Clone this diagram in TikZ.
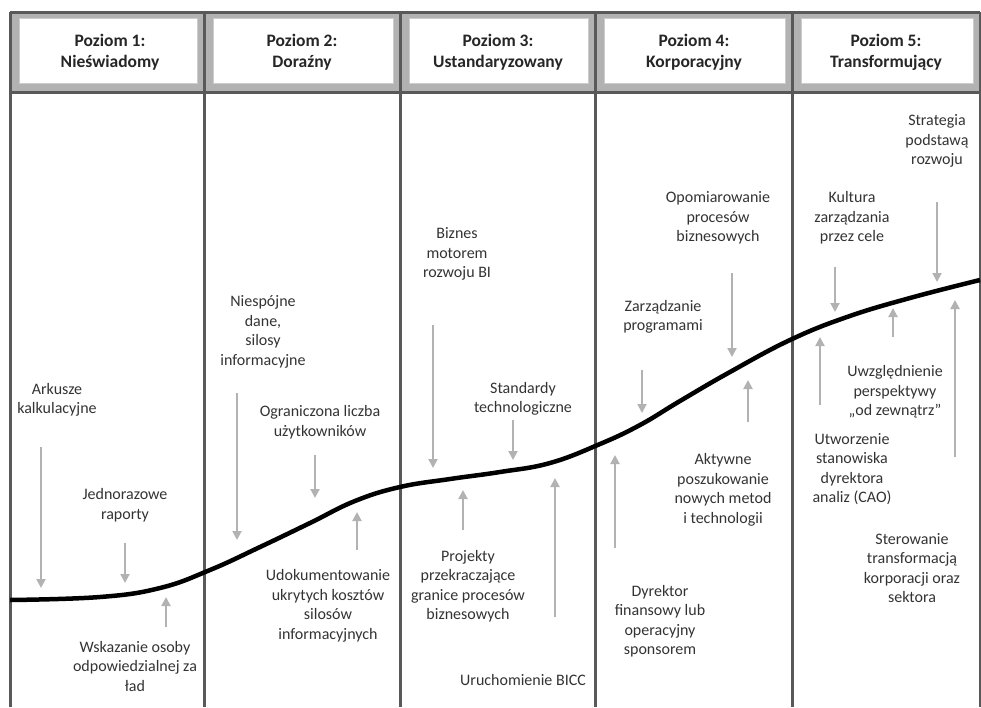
\documentclass[tikz,border=0pt]{standalone}
\usepackage{fontspec}
\setmainfont{Carlito}
\usetikzlibrary{arrows.meta}
\tikzset{
  hdr/.style={align=center,font=\fontsize{17.5}{21}\selectfont\bfseries,text=black!85},
  lbl/.style={align=center,font=\fontsize{16}{19.5}\selectfont,text=black!80},
  arr/.style={draw=gray!60,line width=2pt,-{Triangle[width=9pt,length=9pt,fill=gray!60]}},
  colline/.style={draw=gray!70!black,line width=3pt},
  trend/.style={draw=black,line width=4.5pt}
}
\begin{document}
\begin{tikzpicture}[x=1pt,y=-1pt]
\useasboundingbox (0,0) rectangle (981,707);
% header cells
\foreach \xa/\xb/\n in {10/204/1,204/400/2,400/595/3,595/792/4,792/980/5}{
  \fill[gray!60] (\xa,12) rectangle (\xb,92);
  \draw[fill=white,draw=gray!40] (\xa+9,18) rectangle (\xb-7,83);
  \draw[colline] (\xa,12) -- (\xb,12);
  \draw[colline] (\xa,92) -- (\xb,92);
  \draw[colline] (\xa,12) -- (\xa,707);
}
\draw[colline] (980,12) -- (980,707);
\node[hdr] (p1) at (110,52) {Poziom 1:\\Nieświadomy};
\node[hdr] (p2) at (302,52) {Poziom 2:\\Doraźny};
\node[hdr] (p3) at (498,52) {Poziom 3:\\Ustandaryzowany};
\node[hdr] (p4) at (694,52) {Poziom 4:\\Korporacyjny};
\node[hdr] (p5) at (886,52) {Poziom 5:\\Transformujący};
% maturity curve
\draw[trend] plot[smooth,tension=0.7] coordinates {(10,600) (100,597) (160,588) (210,570)
  (260,547) (310,523) (355,501) (400,487) (450,479) (500,472) (550,463) (600,444)
  (640,425) (680,401) (730,372) (790,340) (847,317) (910,298) (980,280)};
% labels
\node[lbl] (ark) at (57,400) {Arkusze\\kalkulacyjne};
\node[lbl] (jedn) at (125,505) {Jednorazowe\\raporty};
\node[lbl] (wsk) at (135,666) {Wskazanie osoby\\odpowiedzialnej za\\ład};
\node[lbl] (niesp) at (263,332) {Niespójne\\dane,\\silosy\\informacyjne};
\node[lbl] (ogr) at (320,422) {Ograniczona liczba\\użytkowników};
\node[lbl] (udok) at (328,606) {Udokumentowanie\\ukrytych kosztów\\silosów\\informacyjnych};
\node[lbl] (biz) at (457,254) {Biznes\\motorem\\rozwoju BI};
\node[lbl] (std) at (523,399) {Standardy\\technologiczne};
\node[lbl] (proj) at (468,586) {Projekty\\przekraczające\\granice procesów\\biznesowych};
\node[lbl] (bicc) at (523,680) {Uruchomienie BICC};
\node[lbl] (opom) at (718,218) {Opomiarowanie\\procesów\\biznesowych};
\node[lbl] (zarz) at (663,317) {Zarządzanie\\programami};
\node[lbl] (akt) at (723,490) {Aktywne\\poszukowanie\\nowych metod\\i technologii};
\node[lbl] (dyr) at (660,621) {Dyrektor\\finansowy lub\\operacyjny\\sponsorem};
\node[lbl] (strat) at (937,141) {Strategia\\podstawą\\rozwoju};
\node[lbl] (kult) at (852,218) {Kultura\\zarządzania\\przez cele};
\node[lbl] (uwzgl) at (895,392) {Uwzględnienie\\perspektywy\\„od zewnątrz”};
\node[lbl] (utw) at (852,469) {Utworzenie\\stanowiska\\dyrektora\\analiz (CAO)};
\node[lbl] (ster) at (912,568) {Sterowanie\\transformacją\\korporacji oraz\\sektora};
% arrows to and from the curve
\foreach \n/\x/\ya/\yb in {a1/41/447/588, a2/125/543/583, a3/166/627/597,
  a4/237/393/540, a5/315/455/498, a6/357/550/512,
  a7/433/325/468, a8/513/420/460, a9/463/530/490, a10/555/617/478,
  a11/732/273/357, a12/642/370/413, a13/748/422/380, a14/615/548/455,
  a15/937/202/282, a16/835/267/312, a17/893/337/308, a18/820/405/337, a19/955/457/300}{
  \coordinate (\n s) at (\x,\ya);
  \coordinate (\n e) at (\x,\yb);
  \draw[arr] (\n s) -- (\n e);
}
\end{tikzpicture}
\end{document}
